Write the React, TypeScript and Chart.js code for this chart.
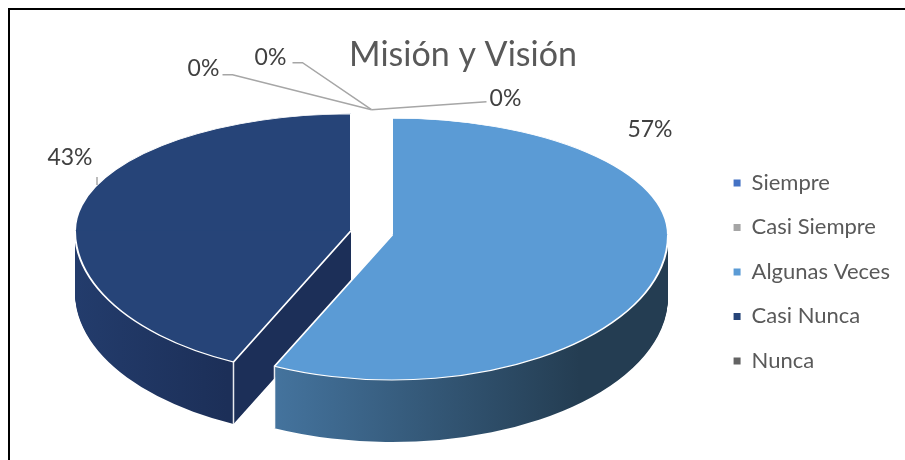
import React, { useEffect, useRef } from "react";
import { Chart, registerables } from "chart.js";

Chart.register(...registerables);

// ---------- data ----------
const TITLE = "Misión y Visión";
const categories = ["Siempre", "Casi Siempre", "Algunas Veces", "Casi Nunca", "Nunca"];
const values = [0, 0, 57, 43, 0];
const percentLabels = ["0%", "0%", "57%", "43%", "0%"];

// ---------- styles ----------
const topColors = ["#4472C4", "#A5A5A5", "#5B9BD5", "#264478", "#636363"];
const sideColors = [
  ["#365F9E", "#2A4A7A"],
  ["#848484", "#6A6A6A"],
  ["#44739D", "#243D52"],
  ["#233C6C", "#1C2F58"],
  ["#4F4F4F", "#3F3F3F"],
];
const sideGradRange = [
  [-1, 1],
  [-1, 1],
  [-0.42, 0.68],
  [-1, -0.45],
  [-1, 1],
];

const FONT = "Lato, 'Noto Sans', sans-serif";
const PIE_X = 361.5;
const PIE_Y = 223;
const TILT_TOP = 0.424; // far half (perspective)
const TILT_BOT = 0.525; // near half
const TILT_AVG = (TILT_TOP + TILT_BOT) / 2;
const DEPTH = 62;
const EXPLODE = 21;
const RADIUS = 276;

// label placement (pixels), relative to pie centre or to the leader hub for 0% labels
const labelLayout: any[] = [
  { text: [134, -11], path: [[115, -8]] },
  { text: [-101, -52], path: [[-69, -47], [-79, -47]] },
  { text: [278.5, -103] },
  { text: [-301.5, -75], leaderX: -274.5, leaderTop: -56 },
  { text: [-168, -41], path: [[-139, -35], [-149, -35]] },
];

function explodedCenter(arc: any) {
  const mid = (arc.startAngle + arc.endAngle) / 2;
  return {
    x: PIE_X + Math.cos(mid) * EXPLODE,
    y: PIE_Y + Math.sin(mid) * EXPLODE * TILT_AVG,
  };
}

function rimPoint(arc: any, angle: number) {
  const c = explodedCenter(arc);
  const R = arc.outerRadius;
  const s = Math.sin(angle);
  return { x: c.x + Math.cos(angle) * R, y: c.y + s * R * (s < 0 ? TILT_TOP : TILT_BOT) };
}

const pie3d = {
  id: "pie3d",
  beforeDatasetsDraw(chart: any) {
    const ctx = chart.ctx as CanvasRenderingContext2D;
    const arcs = chart.getDatasetMeta(0).data as any[];
    const W = chart.width;
    const H = chart.height;
    const drawOne = (arc: any, dy: number, opts: any) => {
      const c = explodedCenter(arc);
      const cy = c.y + dy;
      const orig = arc.options;
      if (opts) arc.options = { ...orig, ...opts };
      // far half and near half drawn with different vertical foreshortening
      for (const half of [0, 1]) {
        ctx.save();
        ctx.beginPath();
        if (half === 0) ctx.rect(0, -H, W, cy + 0.5 + H);
        else ctx.rect(0, cy - 0.5, W, 2 * H);
        ctx.clip();
        ctx.translate(c.x, cy);
        ctx.scale(1, half === 0 ? TILT_TOP : TILT_BOT);
        ctx.translate(-arc.x, -arc.y);
        arc.draw(ctx);
        ctx.restore();
      }
      arc.options = orig;
    };
    const idx = values
      .map((v, i) => i)
      .filter((i) => values[i] > 0)
      .sort((a, b) => {
        const ma = (arcs[a].startAngle + arcs[a].endAngle) / 2;
        const mb = (arcs[b].startAngle + arcs[b].endAngle) / 2;
        return Math.sin(ma) - Math.sin(mb);
      });
    // sides
    for (const i of idx) {
      const arc = arcs[i];
      const R = arc.outerRadius;
      const g = ctx.createLinearGradient(arc.x + sideGradRange[i][0] * R, 0, arc.x + sideGradRange[i][1] * R, 0);
      g.addColorStop(0, sideColors[i][0]);
      g.addColorStop(1, sideColors[i][1]);
      for (let d = DEPTH; d >= 1; d--) {
        drawOne(arc, d, { backgroundColor: g, borderWidth: 0 });
      }
    }
    // white vertical edges at visible front corners
    ctx.save();
    ctx.strokeStyle = "rgba(255,255,255,0.9)";
    ctx.lineWidth = 1.5;
    for (const i of idx) {
      const arc = arcs[i];
      for (const a of [arc.startAngle, arc.endAngle]) {
        if (Math.sin(a) > 0.05) {
          const p = rimPoint(arc, a);
          ctx.beginPath();
          ctx.moveTo(p.x, p.y);
          ctx.lineTo(p.x, p.y + DEPTH);
          ctx.stroke();
        }
      }
    }
    ctx.restore();
    // top faces
    for (const i of idx) drawOne(arcs[i], 0, null);
    return false;
  },
  afterDraw(chart: any) {
    const ctx = chart.ctx as CanvasRenderingContext2D;
    const arcs = chart.getDatasetMeta(0).data as any[];
    const R = arcs[0].outerRadius;
    const hub = { x: PIE_X, y: PIE_Y - (R + EXPLODE * 0.7) * TILT_TOP };
    ctx.save();
    ctx.font = `23px ${FONT}`;
    ctx.fillStyle = "#404040";
    ctx.textAlign = "center";
    ctx.textBaseline = "middle";
    ctx.strokeStyle = "#A6A6A6";
    ctx.lineWidth = 1.5;
    values.forEach((v, i) => {
      const L = labelLayout[i];
      if (v === 0) {
        ctx.beginPath();
        ctx.moveTo(hub.x, hub.y);
        for (const p of L.path) ctx.lineTo(hub.x + p[0], hub.y + p[1]);
        ctx.stroke();
        ctx.fillText(percentLabels[i], hub.x + L.text[0], hub.y + L.text[1]);
      } else {
        ctx.fillText(percentLabels[i], PIE_X + L.text[0], PIE_Y + L.text[1]);
        if (L.leaderX !== undefined) {
          const arc = arcs[i];
          const c = explodedCenter(arc);
          const x = PIE_X + L.leaderX;
          const u = (x - c.x) / R;
          const yEdge = c.y - Math.sqrt(Math.max(0, 1 - u * u)) * R * TILT_TOP;
          ctx.beginPath();
          ctx.moveTo(x, PIE_Y + L.leaderTop);
          ctx.lineTo(x, yEdge);
          ctx.stroke();
        }
      }
    });
    ctx.restore();
  },
};

export default function App() {
  const ref = useRef<HTMLCanvasElement>(null);
  useEffect(() => {
    const chart = new Chart(ref.current!, {
      type: "pie",
      data: {
        labels: categories,
        datasets: [
          {
            data: values,
            backgroundColor: topColors,
            borderColor: "#FFFFFF",
            borderWidth: values.map((v) => (v > 0 ? 2 : 0)),
            clip: false as any,
          },
        ],
      },
      options: {
        responsive: false,
        animation: false,
        events: [],
        radius: RADIUS,
        layout: { padding: { left: 16, right: 5, top: 0, bottom: 2 } },
        plugins: {
          title: {
            display: true,
            text: TITLE,
            color: "#595959",
            font: { family: FONT, size: 34, weight: "normal" },
            padding: { top: 25, bottom: 10 },
          },
          legend: {
            position: "right",
            align: "center",
            fullSize: false,
            labels: {
              color: "#595959",
              font: { family: FONT, size: 22 },
              boxWidth: 7,
              boxHeight: 7,
              padding: 22.5,
              generateLabels: () =>
                categories.map((c, i) => ({
                  text: c,
                  fillStyle: topColors[i],
                  strokeStyle: topColors[i],
                  lineWidth: 0,
                  hidden: false,
                  index: i,
                  fontColor: "#595959",
                })),
            },
          },
          tooltip: { enabled: false },
        },
      } as any,
      plugins: [pie3d],
    });
    return () => chart.destroy();
  }, []);
  return (
    <div
      style={{
        position: "fixed",
        left: 8,
        top: 8,
        width: 897,
        height: 452,
        borderTop: "2px solid #000",
        borderLeft: "2px solid #000",
        background: "#fff",
      }}
    >
      <canvas ref={ref} width={895} height={450} style={{ display: "block", width: 895, height: 450 }} />
    </div>
  );
}
